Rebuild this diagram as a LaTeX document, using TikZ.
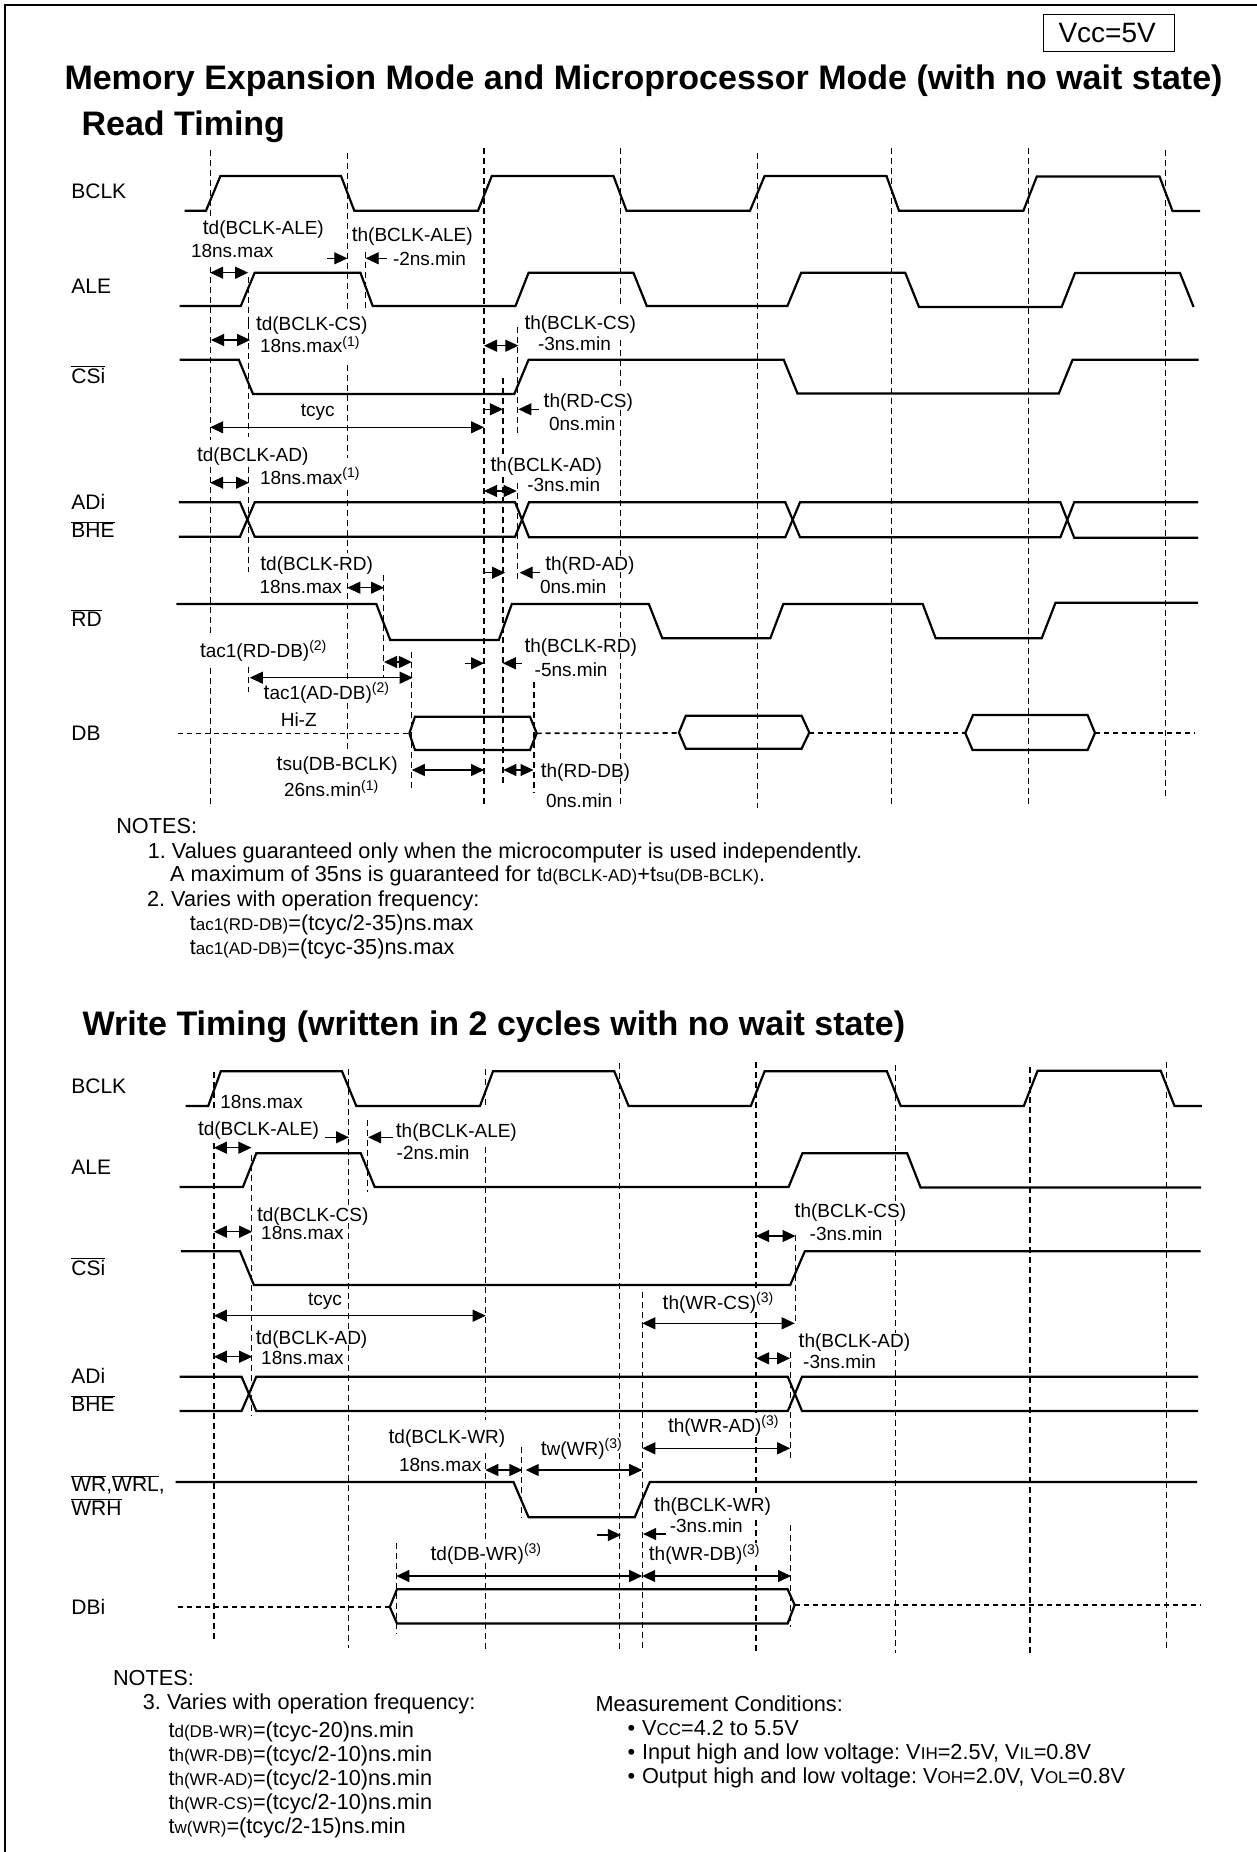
\documentclass[tikz,border=0pt]{standalone}
\usepackage{fontspec}
\setmainfont{Liberation Sans}
\usetikzlibrary{arrows.meta}
\frenchspacing
\newcommand{\fsz}[1]{\fontsize{#1}{#1}\selectfont}
\newcommand{\lt}[1]{{\fsz{21}t}#1}
\newcommand{\st}[1]{{\fsz{21.7}t}{\fsz{17}#1}}
\newcommand{\sv}[1]{{\fsz{21.7}V}{\fsz{17}#1}}
\newcommand{\ssup}[1]{\raisebox{6.5pt}{\fsz{14}(#1)}}
\newcommand{\ovl}[1]{$\overline{\hbox{#1}}$}
\tikzset{
 x=1pt,y=-1pt,
 txt/.style={anchor=base west,inner sep=0pt,outer sep=0pt},
 lbl/.style={txt,font=\fsz{19}},
 sign/.style={txt,font=\fsz{21}},
 note/.style={txt,font=\fsz{21.7}},
 titl/.style={txt,font=\fsz{34}\bfseries},
 sig/.style={draw=black,line width=2.2pt,line join=miter,miter limit=3},
 hiz/.style={draw=black,line width=1.6pt,dash pattern=on 5pt off 4pt},
 grd/.style={draw=black,line width=1.2pt,dash pattern=on 5.5pt off 4.5pt},
 tritip/.tip={Triangle[length=13pt,width=12pt]},
 dbl/.style={draw=black,line width=1.2pt,tritip-tritip},
 one/.style={draw=black,line width=1.2pt,-tritip},
}
\begin{document}
\begin{tikzpicture}
\useasboundingbox (0,0) rectangle (1257,1852);
\fill[white] (0,0) rectangle (1257,1852);
\draw[line width=2.8pt] (5,1852) -- (5,5) -- (1257,5);
\node[draw,line width=1.8pt,minimum width=131pt,minimum height=37pt,inner sep=0pt] (vccbox) at (1109,33) {};
\node[txt,font=\fsz{28}] (vcc) at (1058.5,43) {Vcc=5V};
\node[titl] (title) at (64.5,89.3) {Memory Expansion Mode and Microprocessor Mode (with no wait state)};
\node[titl] (readt) at (81.6,135) {Read Timing};
\node[titl] (writet) at (82.7,1035) {Write Timing (written in 2 cycles with no wait state)};

%%% READ grid
\foreach \x/\a/\b in {210.2/150/217, 210.2/267/440, 210.2/467/635, 210.2/668/807,
 347.3/153/310, 347.3/365/458, 347.3/490/553, 347.3/573/680, 347.3/703/750,
 484/148/807,
 620.8/148/307, 620.8/340/390, 620.8/410/557, 620.8/572/637, 620.8/653/762, 620.8/778/807,
 757.3/153/808, 891.8/148/807, 1028.7/148/806, 1165.6/150/799,
 248.6/277/323, 248.6/323/437, 248.6/467/572, 248.6/667/692, 365.7/252/310, 517.6/327/437, 517.6/483/583, 502.9/378/458, 502.9/477/785, 383.7/575/677, 411.8/652/790, 533.9/682/793}
  \draw[grd] (\x,\a) -- (\x,\b);

%%% READ signals
\draw[sig] (184.5,210.7)--(206,210.7)--(220.4,176)--(341,176)--(354.3,210.7)--(478,210.7)--(491.8,176)--(613.5,176)--(626.5,210.7)--(750,210.7)--(764.6,176)--(886.5,176)--(899,210.7)--(1023.4,210.7)--(1036.8,176.5)--(1159.5,176.5)--(1172.5,211)--(1200,211);
\draw[sig] (179.6,306)--(240.8,306)--(254.7,272.7)--(360.4,272.7)--(372.7,306)--(515.5,306)--(528.6,272.7)--(633.4,272.7)--(646.8,306)--(787.4,306)--(801.2,272.7)--(905.2,272.7)--(919,307)--(1061.6,307)--(1075,273)--(1180,273)--(1193.6,307);
\draw[sig] (179.6,359.7)--(238.8,359.7)--(253,394)--(514.3,394)--(528.6,359.7)--(783.7,359.7)--(797.5,393.5)--(1058.8,393.5)--(1072.6,359.7)--(1198.5,359.7);
\draw[sig] (178.8,502.3)--(240,502.3)--(254.7,536.7)--(515.1,536.7)--(529,502.3)--(785.3,502.3)--(800,537.2)--(1060.4,537.2)--(1074.2,502.3)--(1198,502.3);
\draw[sig] (178.8,536.7)--(240,536.7)--(254.7,502.3)--(515.1,502.3)--(529,537.2)--(785.3,537.2)--(800,502.3)--(1060.4,502.3)--(1074.2,537.7)--(1198,537.7);
\draw[sig] (176.3,604)--(376.3,604)--(390.2,640)--(498.8,640)--(511.8,604)--(648.8,604)--(662.3,638.3)--(770.3,638.3)--(783.3,604)--(922.7,604)--(935.7,638.3)--(1041.7,638.3)--(1055.5,602.7)--(1198,602.7);
\draw[hiz] (178,733.3)--(409.4,733.3);
\draw[hiz] (536.7,733.3)--(678.9,733);
\draw[hiz] (809.3,733)--(965.3,733);
\draw[hiz] (1095,733)--(1195,733);
\draw[sig] (409.4,733.3)--(415,716.7)--(530,716.7)--(536.7,733.3)--(530,750)--(415,750)--cycle;
\draw[sig] (678.9,732.5)--(685.8,715.7)--(801.6,715.7)--(809.3,732.5)--(801.6,748.7)--(685.8,748.7)--cycle;
\draw[sig] (965.3,733)--(973,715)--(1087.6,715)--(1095,733)--(1087.6,750)--(972.5,750)--cycle;

%%% READ arrows
\foreach \a/\b/\y in {210.2/248.2/272.7, 211/250.2/340, 484/518.4/345.7, 210.2/484/427.3, 210.2/249/482.7, 484/516.7/491, 347.3/384/587.7, 384/411.8/662, 249.8/412.7/677.7, 411.8/484/770, 503.3/533.5/770}
  \draw[dbl] (\a,\y) -- (\b,\y);
\foreach \a/\b/\y in {327.3/347.3/258.3, 386.5/365.7/258.3, 482.9/502.9/409.3, 538.8/518.4/409.3, 484/505/572.7, 539.6/519.6/572.7, 464.5/484/663.3, 522.4/502.9/663.3}
  \draw[one] (\a,\y) -- (\b,\y);

%%% READ labels
\node[sign] (rn1) at (71.4,198.3) {BCLK};
\node[sign] (rn2) at (71.4,293.3) {ALE};
\node[sign] (rn3) at (71.4,383.3) {\ovl{CSi}};
\node[sign] (rn4) at (71.4,509.3) {ADi};
\node[sign] (rn5) at (71.4,537.7) {\ovl{BHE}};
\node[sign] (rn6) at (71.4,626) {\ovl{RD}};
\node[sign] (rn7) at (71.4,740) {DB};

\node[lbl] (r1) at (202.9,234) {\lt{d(BCLK-ALE)}};
\node[lbl] (r2) at (191,257.3) {18ns.max};
\node[lbl] (r3) at (351.8,241.7) {\lt{h(BCLK-ALE)}};
\node[lbl] (r4) at (393,265) {-2ns.min};
\node[lbl] (r5) at (256,330.7) {\lt{d(BCLK-CS)}};
\node[lbl] (r6) at (260,352.7) {18ns.max\ssup{1}};
\node[lbl] (r7) at (524.5,329.3) {\lt{h(BCLK-CS)}};
\node[lbl] (r8) at (538,350.7) {-3ns.min};
\node[lbl] (r9) at (543.7,407.3) {\lt{h(RD-CS)}};
\node[lbl] (r10) at (549,430.7) {0ns.min};
\node[lbl] (r11) at (300.8,416.7) {tcyc};
\node[lbl] (r12) at (197,461.7) {\lt{d(BCLK-AD)}};
\node[lbl] (r13) at (260,484) {18ns.max\ssup{1}};
\node[lbl] (r14) at (490.6,471.7) {\lt{h(BCLK-AD)}};
\node[lbl] (r15) at (527.3,491.7) {-3ns.min};
\node[lbl] (r16) at (260.4,570) {\lt{d(BCLK-RD)}};
\node[lbl] (r17) at (259.6,593.3) {18ns.max};
\node[lbl] (r18) at (545.3,570.7) {\lt{h(RD-AD)}};
\node[lbl] (r19) at (540,593.3) {0ns.min};
\node[lbl] (r20) at (200,657.3) {\lt{ac1(RD-DB)}\ssup{2}};
\node[lbl] (r21) at (263.7,699.3) {\lt{ac1(AD-DB)}\ssup{2}};
\node[lbl] (r22) at (524.5,652) {\lt{h(BCLK-RD)}};
\node[lbl] (r23) at (534.7,676.7) {-5ns.min};
\node[lbl] (r24) at (280.8,726) {Hi-Z};
\node[lbl] (r25) at (276.7,770.7) {\lt{su(DB-BCLK)}};
\node[lbl] (r26) at (284,796.7) {26ns.min\ssup{1}};
\node[lbl] (r27) at (540.8,777.3) {\lt{h(RD-DB)}};
\node[lbl] (r28) at (546,807.3) {0ns.min};

%%% READ notes
\node[note] (n1) at (116.3,833.3) {NOTES:};
\node[note] (n2) at (147.8,858.3) {1. Values guaranteed only when the microcomputer is used independently.};
\node[note] (n3) at (170.2,881.7) {A maximum of 35ns is guaranteed for \st{d(BCLK-AD)}+\st{su(DB-BCLK)}.};
\node[note] (n4) at (147,906) {2. Varies with operation frequency:};
\node[note] (n5) at (189.8,930) {\st{ac1(RD-DB)}=(tcyc/2-35)ns.max};
\node[note] (n6) at (189.8,954) {\st{ac1(AD-DB)}=(tcyc-35)ns.max};

%%% WRITE grid
\foreach \x/\a/\b in {213.9/1072/1112, 213.9/1143/1643,
 348.2/1069/1207, 348.2/1223/1330, 348.2/1345/1648,
 485.3/1069/1107, 485.3/1147/1420, 485.3/1453/1541, 485.3/1563/1649,
 619.6/1063/1437, 619.6/1453/1650,
 756/1062/1290, 756/1312/1413, 756/1437/1495, 756/1520/1543, 756/1565/1653,
 895.5/1065/1203, 895.5/1220/1333, 895.5/1350/1653,
 1030/1067/1655, 1166.8/1062/1650,
 251.8/1155/1416, 367.3/1120/1192, 396.3/1543/1634, 521.6/1447/1518, 642.2/1292/1652, 795.5/1235/1323, 790.2/1352/1462, 790.2/1525/1627}
  \draw[grd] (\x,\a) -- (\x,\b);

%%% WRITE signals
\draw[sig] (185.7,1106)--(208.2,1106)--(220.8,1071.3)--(342,1071.3)--(356.3,1106)--(480,1106)--(493,1071.3)--(614.3,1071.3)--(628.6,1106)--(750.8,1106)--(764.6,1071.3)--(886.9,1071.3)--(900.7,1106)--(1023.8,1106)--(1037.6,1070.7)--(1160.7,1070.7)--(1174.5,1106)--(1201.8,1106);
\draw[sig] (179.6,1187)--(242.9,1187)--(256.3,1153.3)--(360.8,1153.3)--(374.7,1187)--(788.6,1187)--(802.4,1153.3)--(907.2,1153.3)--(920.6,1187.5)--(1201,1187.5);
\draw[sig] (180.8,1251.3)--(240,1251.3)--(253.9,1285)--(790.2,1285)--(804.8,1251.3)--(1200.5,1251.3);
\draw[sig] (179.6,1376.7)--(241.6,1376.7)--(256.3,1411)--(787.8,1411)--(802,1376.7)--(1198,1376.7);
\draw[sig] (179.6,1411)--(241.6,1411)--(256.3,1376.7)--(787.8,1376.7)--(802,1411)--(1198,1411);
\draw[sig] (175.5,1482)--(513.5,1482)--(528.6,1517.3)--(634.7,1517.3)--(649.8,1482)--(1197,1482);
\draw[hiz] (177.6,1607)--(389.8,1607);
\draw[hiz] (794.7,1604.7)--(1200,1604.7);
\draw[sig] (397,1623.5)--(389.8,1607)--(397,1589.2)--(787.6,1589.2)--(794.7,1605)--(787.6,1623.5)--cycle;

%%% WRITE arrows
\foreach \a/\b/\y in {213.9/251.4/1147.7, 213.9/252.2/1231.7, 756/795.5/1236, 213.9/485.7/1315.7, 642.3/794.7/1323.3, 213.9/252.2/1356.7, 756/790/1358.3, 642.3/790.2/1448.3, 485.3/522.4/1470, 525.7/642.2/1470, 396.3/642.2/1576, 642.2/791/1576}
  \draw[dbl] (\a,\y) -- (\b,\y);
\foreach \a/\b/\y in {324.5/349/1137.3, 392.7/368.2/1137.3, 596.9/620.9/1535, 665.8/643.1/1534}
  \draw[one] (\a,\y) -- (\b,\y);

%%% WRITE labels
\node[sign] (wn1) at (71.4,1093.3) {BCLK};
\node[sign] (wn2) at (71.4,1174) {ALE};
\node[sign] (wn3) at (71.4,1275) {\ovl{CSi}};
\node[sign] (wn4) at (71.4,1383.3) {ADi};
\node[sign] (wn5) at (71.4,1411.7) {\ovl{BHE}};
\node[sign] (wn6) at (71.4,1491.7) {\ovl{WR},\ovl{WRL},};
\node[sign] (wn7) at (71.4,1515) {\ovl{WRH}};
\node[sign] (wn8) at (71.4,1614) {DBi};

\node[lbl] (w1) at (220.4,1108.3) {18ns.max};
\node[lbl] (w2) at (198,1135.7) {\lt{d(BCLK-ALE)}};
\node[lbl] (w3) at (395.9,1137.3) {\lt{h(BCLK-ALE)}};
\node[lbl] (w4) at (396.7,1159.3) {-2ns.min};
\node[lbl] (w5) at (257,1221.7) {\lt{d(BCLK-CS)}};
\node[lbl] (w6) at (261.2,1239.3) {18ns.max};
\node[lbl] (w7) at (794.7,1217.7) {\lt{h(BCLK-CS)}};
\node[lbl] (w8) at (809.7,1240) {-3ns.min};
\node[lbl] (w9) at (308.2,1305.7) {tcyc};
\node[lbl] (w10) at (662.7,1309.3) {\lt{h(WR-CS)}\ssup{3}};
\node[lbl] (w11) at (255.9,1344.3) {\lt{d(BCLK-AD)}};
\node[lbl] (w12) at (261.2,1364) {18ns.max};
\node[lbl] (w13) at (798.7,1347.3) {\lt{h(BCLK-AD)}};
\node[lbl] (w14) at (803.2,1368.3) {-3ns.min};
\node[lbl] (w15) at (668,1432.3) {\lt{h(WR-AD)}\ssup{3}};
\node[lbl] (w16) at (388.6,1443.3) {\lt{d(BCLK-WR)}};
\node[lbl] (w17) at (399,1471) {18ns.max};
\node[lbl] (w18) at (540.8,1455) {\lt{w(WR)}\ssup{3}};
\node[lbl] (w19) at (654.2,1511) {\lt{h(BCLK-WR)}};
\node[lbl] (w20) at (669.8,1532.7) {-3ns.min};
\node[lbl] (w21) at (430.6,1560) {\lt{d(DB-WR)}\ssup{3}};
\node[lbl] (w22) at (648.9,1560.7) {\lt{h(WR-DB)}\ssup{3}};

%%% WRITE notes
\node[note] (m1) at (113,1685) {NOTES:};
\node[note] (m2) at (142.9,1709.3) {3. Varies with operation frequency:};
\node[note] (m3) at (168.6,1737.3) {\st{d(DB-WR)}=(tcyc-20)ns.min};
\node[note] (m4) at (168.6,1761) {\st{h(WR-DB)}=(tcyc/2-10)ns.min};
\node[note] (m5) at (168.6,1785) {\st{h(WR-AD)}=(tcyc/2-10)ns.min};
\node[note] (m6) at (168.6,1809) {\st{h(WR-CS)}=(tcyc/2-10)ns.min};
\node[note] (m7) at (168.6,1833.3) {\st{w(WR)}=(tcyc/2-15)ns.min};
\node[note] (c1) at (595.6,1711) {Measurement Conditions:};
\node[note] (c2) at (627.5,1735) {•\hspace{7pt}\sv{CC}=4.2 to 5.5V};
\node[note] (c3) at (627.5,1759.3) {•\hspace{7pt}Input high and low voltage: \sv{IH}=2.5V, \sv{IL}=0.8V};
\node[note] (c4) at (627.5,1783.3) {•\hspace{7pt}Output high and low voltage: \sv{OH}=2.0V, \sv{OL}=0.8V};
\end{tikzpicture}
\end{document}
